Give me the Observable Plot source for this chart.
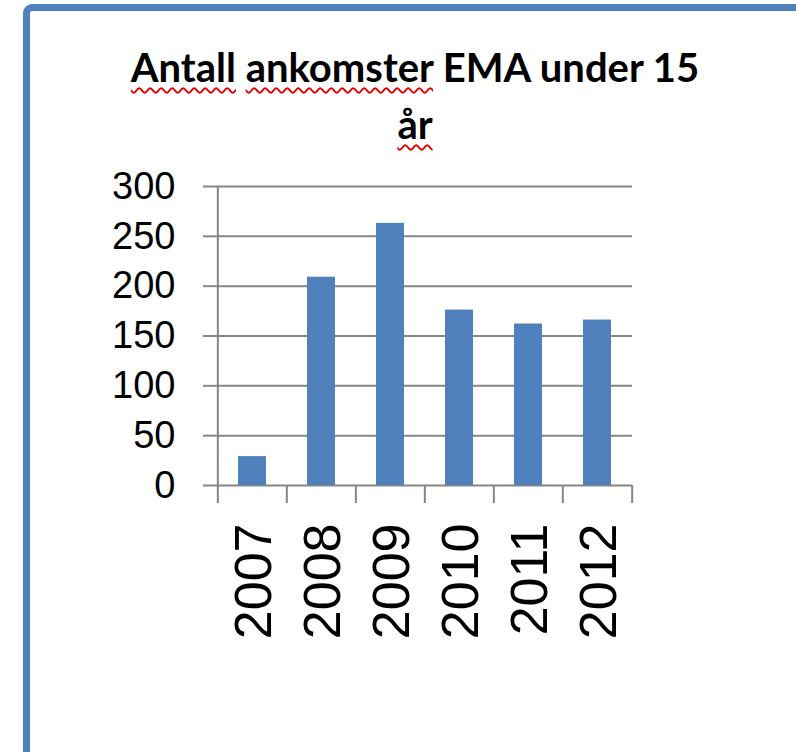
<!DOCTYPE html>
<html><head><meta charset="utf-8">
<script src="https://cdn.jsdelivr.net/npm/d3@7"></script>
<script src="https://cdn.jsdelivr.net/npm/@observablehq/plot@0.6"></script>
<style>
html,body{margin:0;padding:0;background:#fff;width:796px;height:752px;overflow:hidden;position:relative}
#frame{position:absolute;left:23px;top:4px;width:900px;height:900px;border:7px solid #4f81bd;border-radius:9px;box-sizing:border-box}
#title{position:absolute;left:0;top:39px;width:830px;text-align:center;font-family:Lato,"Open Sans",sans-serif;font-weight:bold;font-size:40px;line-height:57px;color:#000}
.sp{text-decoration:underline wavy #e00000;text-decoration-thickness:1.5px;text-underline-offset:5px;text-decoration-skip-ink:none}
#chart{position:absolute;left:0;top:160px}
</style></head><body>
<div id="frame"></div>
<div id="title"><span class="sp">Antall</span> <span class="sp">ankomster</span> EMA under 15<br><span class="sp">år</span></div>
<div id="chart"></div>
<script>
const years = ["2007","2008","2009","2010","2011","2012"];
const arrivals = [29, 209, 263, 176, 162, 166];
const yTicks = [0, 50, 100, 150, 200, 250, 300];

const data = years.map((year, i) => ({year, value: arrivals[i]}));
const W = 796, H = 500, mL = 216, mR = 164, mT = 26, mB = 175;
const step = (W - mL - mR) / years.length;
const gray = "#868686";
const chart = Plot.plot({
  width: W, height: H, marginLeft: mL, marginRight: mR, marginTop: mT, marginBottom: mB,
  style: {fontFamily: "'Liberation Sans', Arial, sans-serif", color: "#000", background: "transparent"},
  x: {domain: years, paddingInner: 0.6, paddingOuter: 0.3, label: null, axis: null},
  y: {domain: [0, 300], label: null, axis: null},
  marks: [
    Plot.ruleY(yTicks, {stroke: gray, strokeWidth: 2}),
    Plot.ruleX([years[0]], {dx: -step / 2, stroke: gray, strokeWidth: 2}),
    Plot.barY(data, {x: "year", y: "value", fill: "#4f81bd"}),
    Plot.axisY({ticks: yTicks, tickSize: 13, tickPadding: 28, stroke: gray, strokeWidth: 2, fontSize: 38, label: null}),
    Plot.axisX({tickSize: 18, tickFormat: () => "", dx: -step / 2, stroke: gray, strokeWidth: 2, label: null}),
    Plot.axisX({ticks: [years[years.length - 1]], tickSize: 18, tickFormat: () => "", dx: step / 2, stroke: gray, strokeWidth: 2, label: null}),
    Plot.axisX({tickSize: 0, tickPadding: 38, tickRotate: -90, fontSize: 52, dx: 2, label: null})
  ]
});
document.getElementById("chart").appendChild(chart);
</script>
</body></html>
